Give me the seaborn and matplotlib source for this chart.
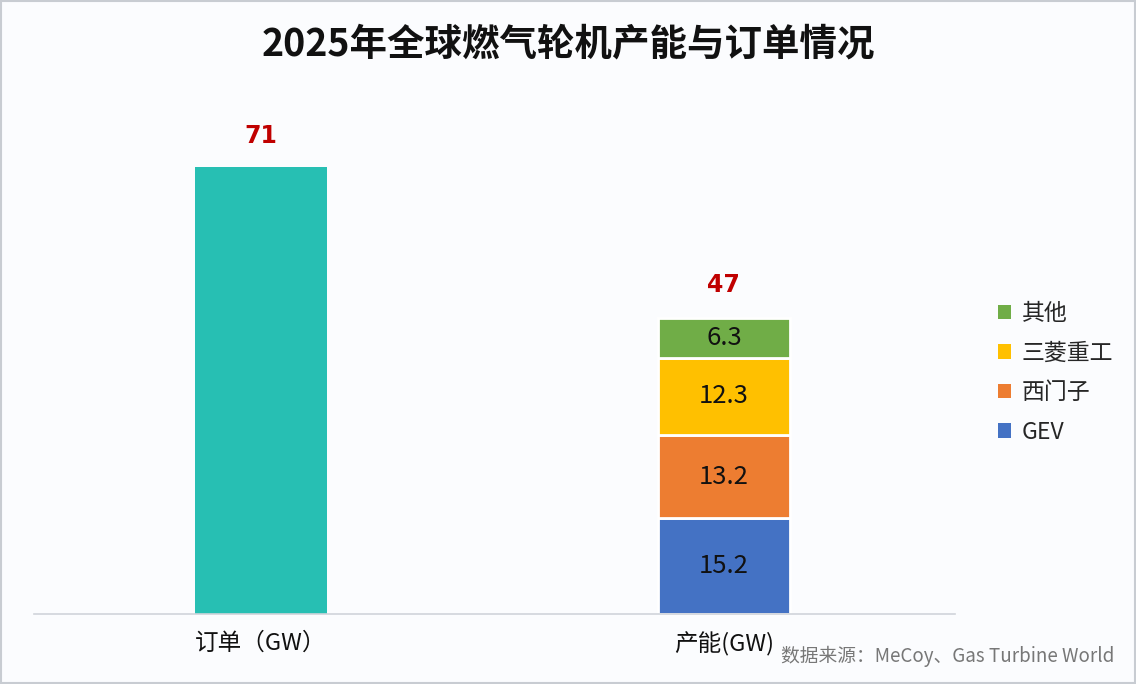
import matplotlib
matplotlib.use("Agg")
import matplotlib.pyplot as plt
import seaborn as sns
from matplotlib.patches import Patch

# 数据
categories = ["订单（GW）", "产能(GW)"]
order_total = 71
capacity_total = 47
makers = ["GEV", "西门子", "三菱重工", "其他"]
maker_values = [15.2, 13.2, 12.3, 6.3]
maker_colors = ["#4472C4", "#ED7D31", "#FFC000", "#70AD47"]
order_color = "#27BFB3"

sns.set_theme(style="white")
plt.rcParams["font.family"] = ["Noto Sans CJK SC", "DejaVu Sans"]

fig = plt.figure(figsize=(11.36, 6.84), dpi=100, facecolor="#FBFCFE")
ax = fig.add_axes([0.030, 0.1023, 0.811, 0.7368])
ax.set_facecolor("#FBFCFE")

bar_w = 0.286
# 订单
sns.barplot(x=[categories[0]], y=[order_total], order=categories,
            color=order_color, width=bar_w, saturation=1, ax=ax,
            edgecolor="white", linewidth=0)

# 产能堆叠
bottom = 0
for name, val, col in zip(makers, maker_values, maker_colors):
    sns.barplot(x=[categories[1]], y=[val], order=categories, bottom=bottom,
                color=col, width=bar_w, saturation=1, ax=ax,
                edgecolor="white", linewidth=2)
    ax.text(1, bottom + val / 2, f"{val}", ha="center", va="center",
            fontsize=18.5, color="#111111")
    bottom += val

# 总数标注
ax.text(0, order_total + 3.0, str(order_total), ha="center", va="bottom",
        fontsize=17, color="#C00000", fontweight="bold", family="DejaVu Sans")
ax.text(1, capacity_total + 3.4, str(capacity_total), ha="center", va="bottom",
        fontsize=17, color="#C00000", fontweight="bold", family="DejaVu Sans")

ax.set_ylim(0, 80)
ax.set_xlim(-0.49, 1.5)
ax.set_yticks([])
ax.set_xlabel("")
ax.set_ylabel("")
ax.tick_params(axis="x", length=0, labelsize=17, pad=13, colors="#111111")
for s in ["top", "right", "left"]:
    ax.spines[s].set_visible(False)
ax.spines["bottom"].set_color("#D0D4DA")
ax.spines["bottom"].set_linewidth(1.2)

# 图例
handles = [Patch(facecolor=c, edgecolor="none", label=n)
           for n, c in zip(makers[::-1], maker_colors[::-1])]
fig.legend(handles=handles, loc="center left", bbox_to_anchor=(0.86, 0.455),
           frameon=False, fontsize=16.5, handlelength=0.6, handleheight=0.6,
           handletextpad=0.45, labelspacing=0.72)

fig.text(0.5, 0.935, "2025年全球燃气轮机产能与订单情况", ha="center", va="center",
         fontsize=27, fontweight="bold", color="#111111")
fig.text(0.981, 0.04, "数据来源：MeCoy、Gas Turbine World", ha="right", va="center",
         fontsize=13.5, color="#777777")

fig.add_artist(plt.Rectangle((0.001, 0.001), 0.998, 0.998, transform=fig.transFigure,
                             fill=False, edgecolor="#C8CCD2", linewidth=1.5))

fig.savefig("out.png", dpi=100, facecolor=fig.get_facecolor())
